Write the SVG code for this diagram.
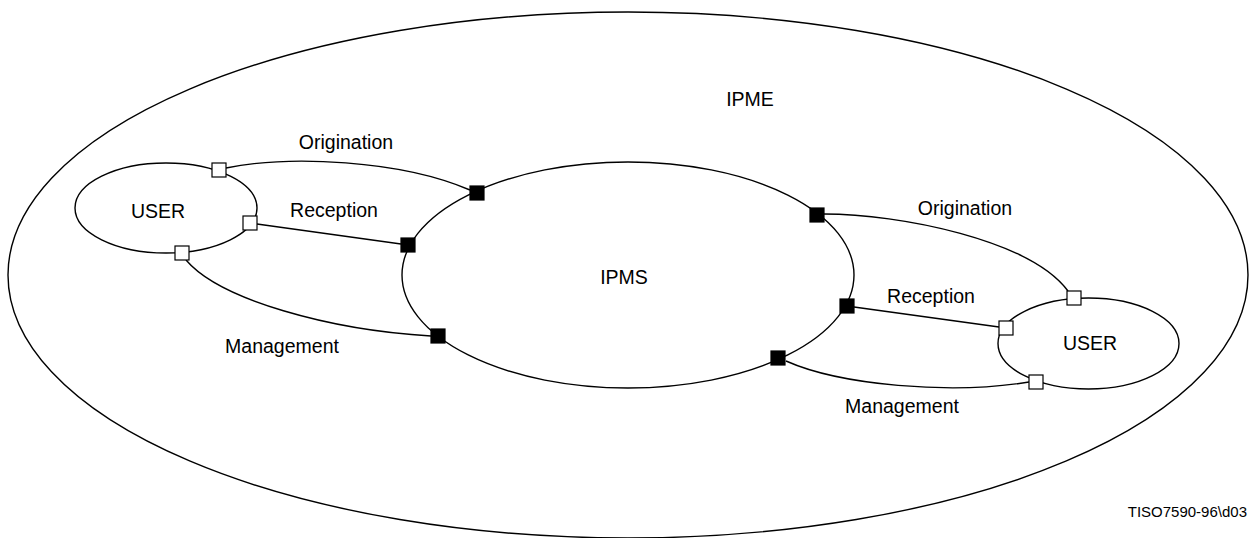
<svg xmlns="http://www.w3.org/2000/svg" width="1249" height="538" viewBox="0 0 1249 538">
<style>
.ell{fill:none;stroke:#000;stroke-width:1.4}
.con{fill:none;stroke:#000;stroke-width:1.4}
.open{fill:#fff;stroke:#000;stroke-width:1.2}
.solid{fill:#000;stroke:#000;stroke-width:1.2}
text{font-family:"Liberation Sans",Arial,sans-serif;font-size:19.5px;fill:#000;text-anchor:middle}
.ref{font-size:15px;text-anchor:end}
</style>
<rect width="1249" height="538" fill="#fff"/>
<g id="ipme">
<ellipse class="ell" cx="628" cy="275" rx="620" ry="263"/>
<text x="750" y="106">IPME</text>
</g>
<g id="connectors">
<path class="con" d="M226,168 C290,155 400,160 470,190"/>
<line class="con" x1="257" y1="224" x2="401" y2="244"/>
<path class="con" d="M186,260 C220,300 330,330 431,336"/>
<path class="con" d="M824,214 C900,214 1030,240 1068,291"/>
<line class="con" x1="854" y1="307" x2="999" y2="327"/>
<path class="con" d="M786,361 C840,385 950,395 1029,382"/>
<text x="346" y="149">Origination</text>
<text x="334" y="217">Reception</text>
<text x="282" y="353">Management</text>
<text x="965" y="215">Origination</text>
<text x="931" y="303">Reception</text>
<text x="902" y="413">Management</text>
</g>
<g id="ipms">
<ellipse class="ell" cx="628" cy="275" rx="226" ry="113"/>
<text x="624" y="284">IPMS</text>
<rect class="solid" x="470" y="186" width="14" height="14"/>
<rect class="solid" x="401" y="238" width="14" height="14"/>
<rect class="solid" x="431" y="329" width="14" height="14"/>
<rect class="solid" x="810" y="208" width="14" height="14"/>
<rect class="solid" x="840" y="299" width="14" height="14"/>
<rect class="solid" x="771" y="351" width="14" height="14"/>
</g>
<g id="user-left">
<ellipse class="ell" cx="166" cy="208" rx="91" ry="45"/>
<text x="158" y="218">USER</text>
<rect class="open" x="212" y="163" width="14" height="14"/>
<rect class="open" x="243" y="216" width="14" height="14"/>
<rect class="open" x="175" y="246" width="14" height="14"/>
</g>
<g id="user-right">
<ellipse class="ell" cx="1088.5" cy="343.5" rx="90.5" ry="45.5"/>
<text x="1090" y="350">USER</text>
<rect class="open" x="1067" y="291" width="14" height="14"/>
<rect class="open" x="999" y="321" width="14" height="14"/>
<rect class="open" x="1029" y="375" width="14" height="14"/>
</g>
<text class="ref" x="1247" y="517">TISO7590-96\d03</text>
</svg>
